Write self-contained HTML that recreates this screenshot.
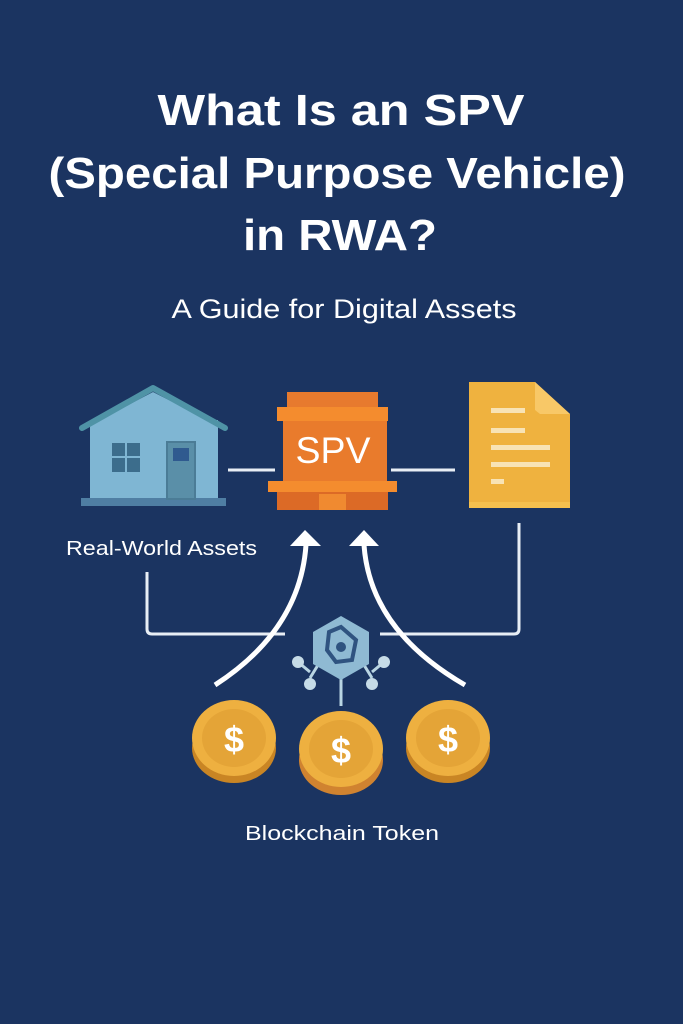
<!DOCTYPE html>
<html><head><meta charset="utf-8"><style>
html,body{margin:0;padding:0;background:#1b3461;}
svg{display:block;}
text{font-family:"Liberation Sans",sans-serif;fill:#fff;}
</style></head><body>
<svg width="683" height="1024" viewBox="0 0 683 1024" xmlns="http://www.w3.org/2000/svg">
<rect width="683" height="1024" fill="#1b3461"/>
<text x="341" y="125" text-anchor="middle" font-size="44" font-weight="bold" textLength="367" lengthAdjust="spacingAndGlyphs">What Is an SPV</text>
<text x="337" y="188" text-anchor="middle" font-size="44" font-weight="bold" textLength="577" lengthAdjust="spacingAndGlyphs">(Special Purpose Vehicle)</text>
<text x="340" y="250" text-anchor="middle" font-size="44" font-weight="bold" textLength="194" lengthAdjust="spacingAndGlyphs">in RWA?</text>
<text x="344" y="318" text-anchor="middle" font-size="27" textLength="345" lengthAdjust="spacingAndGlyphs">A Guide for Digital Assets</text>

<!-- house -->
<rect x="90" y="420" width="128" height="80" fill="#7fb6d3"/>
<polygon points="90,425 153,392 218,425 218,432 90,432" fill="#7fb6d3"/>
<polyline points="82,428 153,388 225,428" fill="none" stroke="#4f93a6" stroke-width="6" stroke-linecap="round" stroke-linejoin="round"/>
<rect x="81" y="498" width="145" height="8" fill="#4f7ea3"/>
<rect x="112" y="443" width="28" height="29" fill="#3c6d8c"/>
<line x1="126" y1="443" x2="126" y2="472" stroke="#7fb6d3" stroke-width="2"/>
<line x1="112" y1="457" x2="140" y2="457" stroke="#7fb6d3" stroke-width="2"/>
<rect x="167" y="442" width="28" height="57" fill="#5a8fa8" stroke="#4b7c96" stroke-width="2"/>
<rect x="173" y="448" width="16" height="13" fill="#2f5a8f"/>

<!-- connectors -->
<line x1="228" y1="470" x2="275" y2="470" stroke="#e8eef5" stroke-width="3"/>
<line x1="391" y1="470" x2="455" y2="470" stroke="#e8eef5" stroke-width="3"/>

<!-- SPV -->
<rect x="287" y="392" width="91" height="18" fill="#e77a2e"/>
<rect x="277" y="407" width="111" height="14" fill="#f48c2e"/>
<rect x="283" y="421" width="104" height="61" fill="#e97b2c"/>
<rect x="268" y="481" width="129" height="11" fill="#f48c2e"/>
<rect x="277" y="492" width="111" height="18" fill="#dc6a26"/>
<rect x="319" y="494" width="27" height="16" fill="#f08a30"/>
<text x="333" y="463" text-anchor="middle" font-size="37" textLength="75" lengthAdjust="spacingAndGlyphs">SPV</text>

<!-- document -->
<polygon points="469,382 535,382 570,414 570,508 469,508" fill="#efb23f"/>
<polygon points="535,382 570,414 540,414 535,410" fill="#f8c867"/>
<rect x="469" y="502" width="101" height="6" fill="#f5c04e"/>
<g fill="#f8e3b5">
<rect x="491" y="408" width="34" height="5"/>
<rect x="491" y="428" width="34" height="5"/>
<rect x="491" y="445" width="59" height="5"/>
<rect x="491" y="462" width="59" height="5"/>
<rect x="491" y="479" width="13" height="5"/>
</g>

<text x="66" y="555" font-size="20" textLength="191" lengthAdjust="spacingAndGlyphs">Real-World Assets</text>

<!-- brackets -->
<path d="M147,572 V629 Q147,634 152,634 H285" fill="none" stroke="#e8eef5" stroke-width="3"/>
<path d="M519,523 V629 Q519,634 514,634 H380" fill="none" stroke="#e8eef5" stroke-width="3"/>

<!-- curved arrows -->
<path d="M215,685 Q300,630 306,545" fill="none" stroke="#fff" stroke-width="5"/>
<polygon points="290,546 305,530 321,546" fill="#fff"/>
<path d="M465,685 Q370,630 364,545" fill="none" stroke="#fff" stroke-width="5"/>
<polygon points="349,546 364,530 379,546" fill="#fff"/>

<!-- hex network -->
<g stroke="#b9d5e3" stroke-width="3">
<line x1="341" y1="670" x2="341" y2="706"/>
<line x1="318" y1="665" x2="310" y2="678"/><line x1="310" y1="672" x2="298" y2="662"/>
<line x1="364" y1="665" x2="372" y2="678"/><line x1="372" y1="672" x2="384" y2="662"/>
</g>
<g fill="#c6dbe7">
<circle cx="298" cy="662" r="6"/><circle cx="310" cy="684" r="6"/>
<circle cx="384" cy="662" r="6"/><circle cx="372" cy="684" r="6"/>
</g>
<polygon points="341,616 369,632 369,664 341,680 313,664 313,632" fill="#8fbad3"/>
<path d="M329,632 L341,627 L356,640 L352,660 L336,662 L327,650 Z" fill="none" stroke="#2f5380" stroke-width="4"/>
<circle cx="341" cy="647" r="5" fill="#2f5380"/>

<!-- coins -->
<g>
<ellipse cx="234" cy="748" rx="42" ry="35" fill="#c98524"/>
<ellipse cx="234" cy="738" rx="42" ry="38" fill="#eeb040"/>
<ellipse cx="234" cy="738" rx="32" ry="29" fill="#e4a437"/>
<text x="234" y="752" text-anchor="middle" font-size="36" font-weight="bold">$</text>
</g>
<g>
<ellipse cx="341" cy="760" rx="42" ry="35" fill="#d08330"/>
<ellipse cx="341" cy="749" rx="42" ry="38" fill="#eeb040"/>
<ellipse cx="341" cy="749" rx="32" ry="29" fill="#e4a437"/>
<text x="341" y="763" text-anchor="middle" font-size="36" font-weight="bold">$</text>
</g>
<g>
<ellipse cx="448" cy="748" rx="42" ry="35" fill="#c98524"/>
<ellipse cx="448" cy="738" rx="42" ry="38" fill="#eeb040"/>
<ellipse cx="448" cy="738" rx="32" ry="29" fill="#e4a437"/>
<text x="448" y="752" text-anchor="middle" font-size="36" font-weight="bold">$</text>
</g>

<text x="342" y="840" text-anchor="middle" font-size="20" textLength="194" lengthAdjust="spacingAndGlyphs">Blockchain Token</text>
</svg>
</body></html>
